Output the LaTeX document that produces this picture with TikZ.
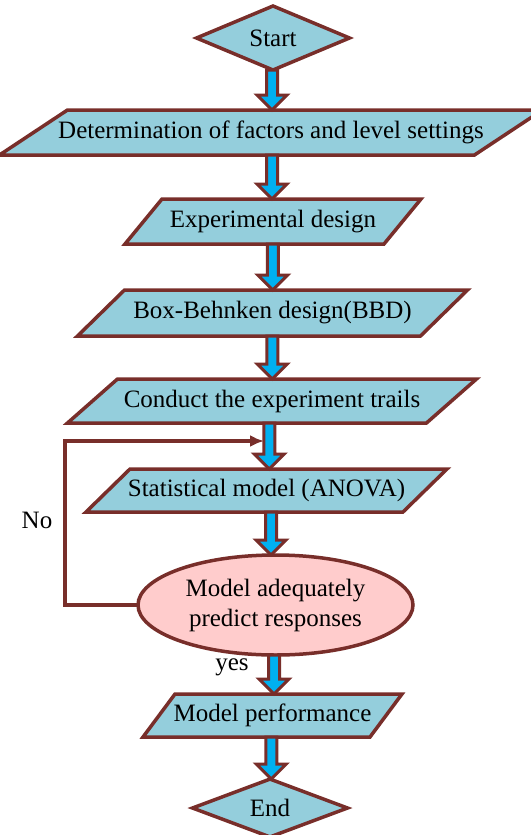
\documentclass[tikz,border=0pt]{standalone}
\usepackage{fontspec}
\setmainfont{Liberation Serif}
\usetikzlibrary{shapes.geometric,arrows.meta,calc,backgrounds}

\definecolor{boxblue}{RGB}{148,206,220}
\definecolor{framebrown}{RGB}{120,46,42}
\definecolor{arrowblue}{RGB}{0,176,240}
\definecolor{checkpink}{RGB}{255,204,204}

\tikzset{
  flowtext/.style={font=\fontsize{25pt}{30pt}\selectfont, inner sep=0pt, outer sep=0pt},
  terminal/.style={flowtext, diamond, draw=framebrown, fill=boxblue, line width=3.5pt,
    minimum width=153pt, minimum height=51pt},
  iotext/.style={flowtext, rectangle},
  ioframe/.style={draw=framebrown, fill=boxblue, line width=3.5pt},
  decision/.style={flowtext, ellipse, draw=framebrown, fill=checkpink, line width=3.5pt,
    align=center, minimum width=275pt, minimum height=100pt},
  % hollow block arrow from one box to the next
  blockarrow/.style={draw=framebrown, fill=arrowblue, line width=3pt,
    to path={let \p1=(\tikztostart), \p2=(\tikztotarget),
      \p3=($(\tikztostart)!.5!(\tikztotarget)$) in
      (\x3-5.5pt,\y1) -- (\x3-5.5pt,\y2+15pt) -- (\x3-15pt,\y2+15pt) -- (\x3,\y2)
      -- (\x3+15pt,\y2+15pt) -- (\x3+5.5pt,\y2+15pt) -- (\x3+5.5pt,\y1) -- cycle}},
  loopline/.style={draw=framebrown, line width=3.5pt, -{Latex[length=14pt,width=12pt]}},
  sidelabel/.style={font=\fontsize{25pt}{30pt}\selectfont, inner sep=0pt}
}

% name, centre, width, height, slant, text
\newcommand{\iobox}[6]{%
  \node[iotext, minimum width=#3, minimum height=#4] (#1) at #2 {#6};
  \begin{scope}[on background layer]
    \filldraw[ioframe] ([xshift=#5/2]#1.north west) -- ([xshift=#5/2]#1.north east)
      -- ([xshift=-#5/2]#1.south east) -- ([xshift=-#5/2]#1.south west) -- cycle;
  \end{scope}}

\begin{document}
\begin{tikzpicture}[x=1pt,y=-1pt]
  \useasboundingbox (0,0) rectangle (530,835);

  % boxes
  \node[terminal] (start) at (273,38) {Start};
  \iobox{factors}{(271,132.5)}{475pt}{45pt}{68pt}{Determination of factors and level settings}
  \iobox{design}{(273,221.5)}{259pt}{45pt}{37pt}{Experimental design}
  \iobox{bbd}{(272.5,313)}{343pt}{46pt}{47pt}{Box-Behnken design(BBD)}
  \iobox{trails}{(272,401)}{359pt}{44pt}{50pt}{Conduct the experiment trails}
  \iobox{anova}{(266.5,490.5)}{317pt}{43pt}{44pt}{Statistical model (ANOVA)}
  \node[decision] (adequate) at (275.5,605) {Model adequately\\predict responses};
  \iobox{perform}{(272.5,715.5)}{227pt}{43pt}{32pt}{Model performance}
  \node[terminal, minimum width=155pt, minimum height=52pt] (end) at (270,808) {End};

  % flow
  \draw[blockarrow] (start.south) to (factors.north);
  \draw[blockarrow] (factors.south) to (design.north);
  \draw[blockarrow] (design.south) to (bbd.north);
  \draw[blockarrow] (bbd.south) to (trails.north);
  \draw[blockarrow] (trails.south) to (anova.north);
  \draw[blockarrow] (anova.south) to (adequate.north);
  \draw[blockarrow] (adequate.south) to (perform.north);
  \draw[blockarrow] (perform.south) to (end.north);

  % back to the model when it fails
  \coordinate (loopcorner) at (65,441);
  \coordinate (loopend) at (264,441);
  \draw[loopline] (adequate.west) -| (loopcorner) -- (loopend);
  \node[sidelabel] (no) at (37,520) {No};
  \node[sidelabel] (yes) at (232,667) {yes};
\end{tikzpicture}
\end{document}
